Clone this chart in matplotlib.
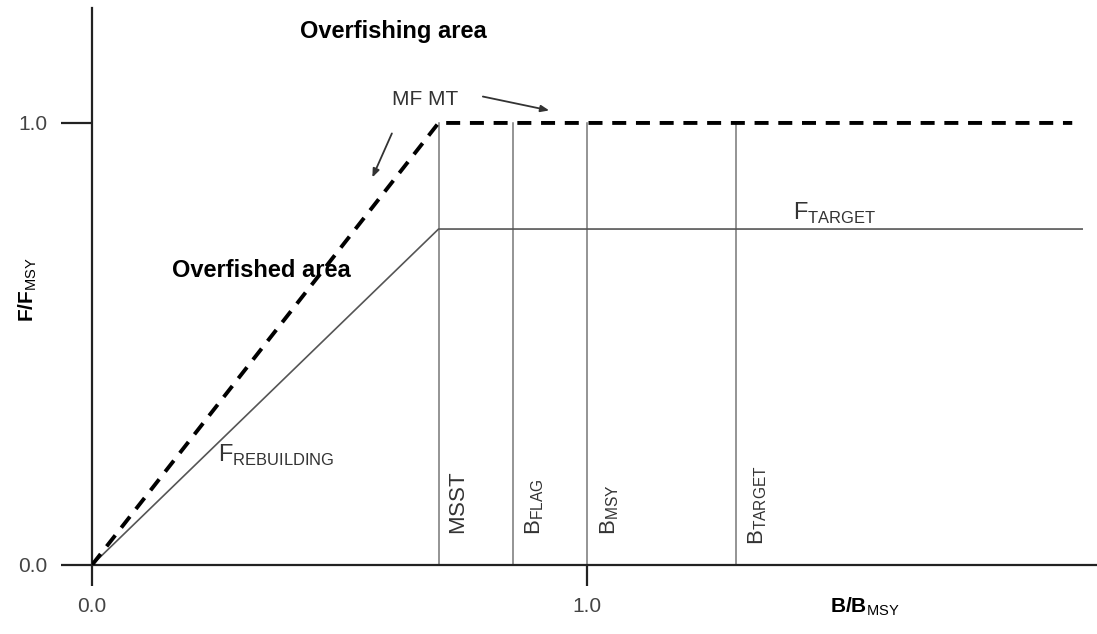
import matplotlib.pyplot as plt
from matplotlib import font_manager

# pick a narrow Arial-like face if there is one
names = set(f.name for f in font_manager.fontManager.ttflist)
narrow = 'Liberation Sans Narrow' if 'Liberation Sans Narrow' in names else 'Liberation Sans'

plt.rcParams['font.family'] = ['Liberation Sans', 'DejaVu Sans']
plt.rcParams['mathtext.fontset'] = 'custom'
plt.rcParams['mathtext.rm'] = narrow
plt.rcParams['mathtext.bf'] = 'Liberation Sans:bold'

# control rule values (B/Bmsy, F/Fmsy)
mfmt_x = [0.0, 0.70, 1.98]
mfmt_y = [0.0, 1.0, 1.0]
ftarget_x = [0.0, 0.70, 2.0]
ftarget_y = [0.0, 0.76, 0.76]
ref_points = [0.70, 0.85, 1.0, 1.30]
ref_labels = [r'$\mathrm{MSST}$', r'$\mathrm{B}_{\mathrm{FLAG}}$',
              r'$\mathrm{B}_{\mathrm{MSY}}$', r'$\mathrm{B}_{\mathrm{TARGET}}$']
ref_label_bottom = [0.068, 0.068, 0.068, 0.045]
ticks = [0.0, 1.0]
tick_labels = ['0.0', '1.0']

fig = plt.figure(figsize=(10.97, 6.34), dpi=100)
ax = fig.add_axes([92 / 1097, 69 / 634, 1 - 92 / 1097, 557 / 634])
ax.set_xlim(0, 2.03)
ax.set_ylim(0, 1.26)

# reference points
for xv in ref_points:
    ax.plot([xv, xv], [0, 1.0], color='#777777', lw=1.1, zorder=1)

ax.plot(ftarget_x, ftarget_y, color='#555555', lw=1.2, zorder=2)
ax.plot(mfmt_x, mfmt_y, color='black', lw=2.8, dashes=(3.6, 2.5), zorder=3)

for xv, lab, yb in zip(ref_points, ref_labels, ref_label_bottom):
    ax.text(xv + 0.022, yb, lab, rotation=90, ha='left', va='bottom',
            fontsize=16, color='#333333')

ax.text(0.255, 0.233, r'$\mathrm{F}_{\mathrm{REBUILDING}}$', fontsize=17,
        color='#333333', ha='left', va='baseline')
ax.text(1.416, 0.78, r'$\mathrm{F}_{\mathrm{TARGET}}$', fontsize=17,
        color='#333333', ha='left', va='baseline')

ax.text(0.42, 1.206, 'Overfishing area', fontsize=17, fontweight='bold',
        family=narrow, ha='left', va='center')
ax.text(0.162, 0.667, 'Overfished area', fontsize=17, fontweight='bold',
        family=narrow, ha='left', va='center')
ax.text(0.673, 1.052, 'MF MT', fontsize=15, family=narrow, color='#333333',
        ha='center', va='center')

arrow = dict(arrowstyle='-|>,head_length=0.5,head_width=0.2', color='#333333', lw=1.3)
ax.annotate('', xy=(0.929, 1.027), xytext=(0.784, 1.061), arrowprops=arrow)
ax.annotate('', xy=(0.564, 0.871), xytext=(0.608, 0.982), arrowprops=arrow)

for s in ['top', 'right']:
    ax.spines[s].set_visible(False)
for s in ['left', 'bottom']:
    ax.spines[s].set_linewidth(1.6)
    ax.spines[s].set_color('#222222')

ax.set_xticks(ticks)
ax.set_xticklabels(tick_labels)
ax.set_yticks(ticks)
ax.set_yticklabels(tick_labels)
ax.tick_params(axis='x', direction='out', length=15, width=1.6, color='#222222',
               labelsize=15, labelcolor='#444444', pad=8)
ax.tick_params(axis='y', direction='out', length=22, width=1.6, color='#222222',
               labelsize=15, labelcolor='#444444', pad=10)

fig.text(28 / 1097, 1 - 290 / 634, r'$\mathbf{F/F}_{\mathrm{MSY}}$', rotation=90,
         fontsize=15, ha='center', va='center')
fig.text(865 / 1097, 1 - 607 / 634, r'$\mathbf{B/B}_{\mathrm{MSY}}$',
         fontsize=15, ha='center', va='center')

fig.savefig('out.png', dpi=100)
